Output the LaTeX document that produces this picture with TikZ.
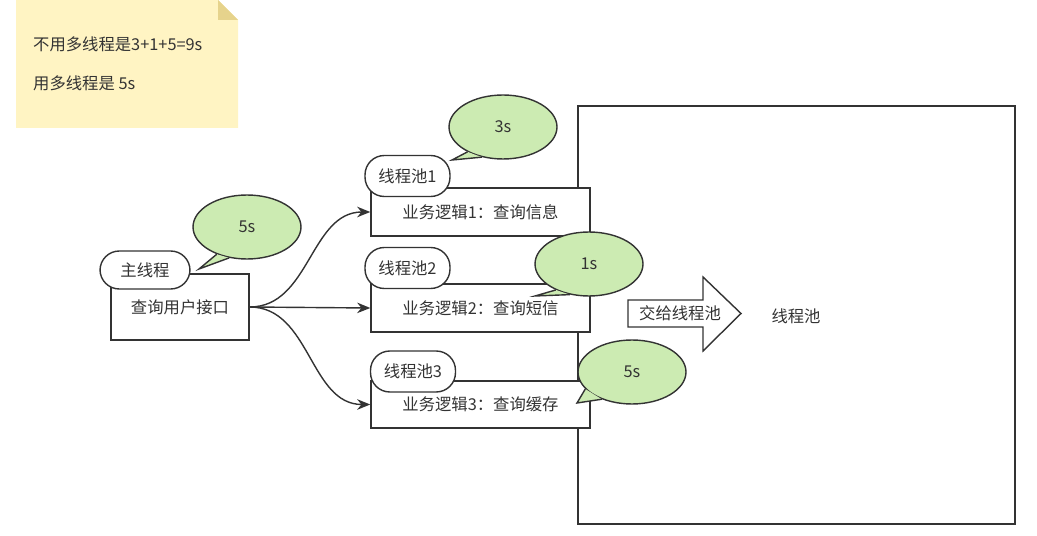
\documentclass[tikz,border=0pt]{standalone}
\usepackage{fontspec}
\setmainfont{Noto Sans CJK SC}
\usetikzlibrary{arrows.meta,shapes.geometric}

\definecolor{notefill}{RGB}{255,244,195}
\definecolor{notefold}{RGB}{230,211,140}
\definecolor{bubblefill}{RGB}{204,235,178}
\definecolor{ink}{RGB}{51,51,51}

\tikzset{
    box/.style={rectangle,draw=ink,fill=white,line width=0.8pt,inner sep=0pt},
    tag/.style={rectangle,rounded corners=11pt,draw=ink,fill=white,line width=0.8pt,inner sep=0pt,minimum width=1.7cm,minimum height=0.82cm},
    bubble/.style={ellipse,draw=ink,fill=bubblefill,line width=0.8pt,inner sep=0pt,minimum width=2.16cm,minimum height=1.28cm},
    tail/.style={fill=bubblefill,draw=ink,line width=0.8pt,line join=miter}
}

\begin{document}
\begin{tikzpicture}[x=0.02cm,y=-0.02cm,font=\fontsize{9.3}{11}\selectfont,text=ink]
\useasboundingbox (0,0) rectangle (1037,536);

% sticky note
\fill[notefill] (16,0) -- (218,0) -- (238,20) -- (238,128) -- (16,128) -- cycle;
\fill[notefold] (218,0) -- (218,20) -- (238,20) -- cycle;
\node[anchor=west] (note1) at (27,44) {不用多线程是3+1+5=9s};
\node[anchor=west] (note2) at (27,83) {用多线程是 5s};

% the pool frame
\draw[ink,line width=0.8pt] (578,106) rectangle (1015,524);

% boxes
\node[box,minimum width=2.76cm,minimum height=1.32cm] (main) at (180,307) {查询用户接口};
\node[box,minimum width=4.38cm,minimum height=0.96cm] (biz1) at (480.5,212) {业务逻辑1：查询信息};
\node[box,minimum width=4.38cm,minimum height=0.96cm] (biz2) at (480.5,308) {业务逻辑2：查询短信};
\node[box,minimum width=4.38cm,minimum height=0.94cm] (biz3) at (480.5,404.5) {业务逻辑3：查询缓存};

\begin{scope}[>={Stealth[length=7.5pt,width=6pt]},
              every edge/.style={draw=ink,line width=0.8pt}]
    \path [->] (main.east) edge[out=0,in=180] (biz1.west);
    \path [->] (main.east) edge (biz2.west);
    \path [->] (main.east) edge[out=0,in=180] (biz3.west);
\end{scope}

% tags
\node[tag,minimum width=1.8cm,minimum height=0.76cm] (mainTag) at (145,270) {主线程};
\node[tag] (pool1) at (407.5,176) {线程池1};
\node[tag] (pool2) at (407.5,268) {线程池2};
\node[tag] (pool3) at (413,371.5) {线程池3};

% bubbles
\node[bubble] (t0) at (247,227) {5s};
\node[bubble] (t1) at (503,127) {3s};
\node[bubble] (t2) at (589,264) {1s};
\node[bubble] (t3) at (632,372) {5s};
\coordinate (tip0) at (199,269);
\coordinate (tip1) at (452,160);
\coordinate (tip2) at (535,296);
\coordinate (tip3) at (577,403);
\fill[bubblefill] (t0.222) -- (tip0) -- (t0.240) -- cycle;
\draw[tail,fill=none] (t0.222) -- (tip0) -- (t0.240);
\fill[bubblefill] (t1.215) -- (tip1) -- (t1.235) -- cycle;
\draw[tail,fill=none] (t1.215) -- (tip1) -- (t1.235);
\fill[bubblefill] (t2.218) -- (tip2) -- (t2.238) -- cycle;
\draw[tail,fill=none] (t2.218) -- (tip2) -- (t2.238);
\fill[bubblefill] (t3.200) -- (tip3) -- (t3.222) -- cycle;
\draw[tail,fill=none] (t3.200) -- (tip3) -- (t3.222);

% hand-off arrow
\draw[ink,fill=white,line width=0.8pt,line join=miter]
    (628,300) -- (703,300) -- (703,277) -- (741,313.5) -- (703,351) -- (703,327) -- (628,327) -- cycle;
\node (handoff) at (680,313.5) {交给线程池};
\node (poolText) at (796,316) {线程池};
\end{tikzpicture}
\end{document}
